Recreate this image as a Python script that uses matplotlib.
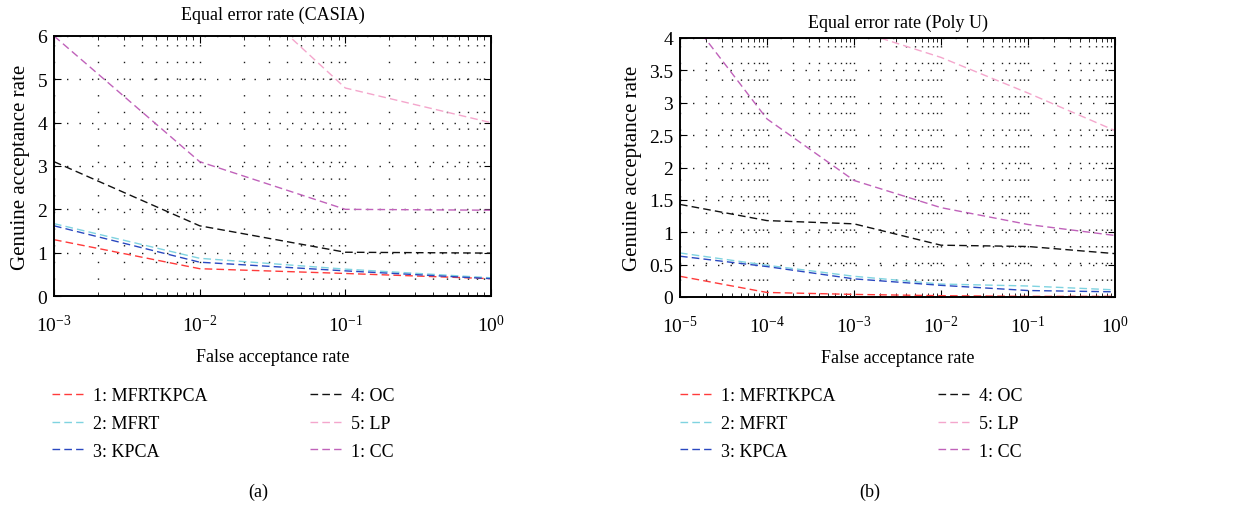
import matplotlib
matplotlib.use("Agg")
import matplotlib.pyplot as plt
from matplotlib.ticker import FuncFormatter, LogLocator

plt.rcParams['font.family'] = ['Liberation Serif', 'DejaVu Serif']
plt.rcParams['mathtext.fontset'] = 'custom'
plt.rcParams['mathtext.rm'] = 'Liberation Serif'
plt.rcParams['mathtext.it'] = 'Liberation Serif:italic'
plt.rcParams['font.size'] = 13

labels = ["1: MFRTKPCA", "2: MFRT", "3: KPCA", "4: OC", "5: LP", "1: CC"]
colors = ["#ff3b3b", "#7fd3e0", "#2a48c0", "#111111", "#f4a6cc", "#c062ba"]

# CASIA
far_casia = [1e-3, 1e-2, 1e-1, 1.0]
casia_mfrtkpca = [1.30, 0.63, 0.52, 0.40]
casia_mfrt = [1.67, 0.87, 0.62, 0.42]
casia_kpca = [1.62, 0.78, 0.58, 0.40]
casia_oc = [3.10, 1.62, 1.01, 0.99]
casia_lp = [11.0, 7.9, 4.8, 4.0]
casia_cc = [6.0, 3.10, 2.0, 1.98]

# Poly U
far_poly = [1e-5, 1e-4, 1e-3, 1e-2, 1e-1, 1.0]
poly_mfrtkpca = [0.32, 0.07, 0.04, 0.02, 0.01, 0.01]
poly_mfrt = [0.68, 0.49, 0.32, 0.20, 0.17, 0.11]
poly_kpca = [0.63, 0.47, 0.28, 0.18, 0.10, 0.08]
poly_oc = [1.43, 1.18, 1.13, 0.80, 0.78, 0.67]
poly_lp = [5.0, 4.55, 4.13, 3.70, 3.15, 2.57]
poly_cc = [4.5, 2.75, 1.80, 1.38, 1.12, 0.95]

casia = [casia_mfrtkpca, casia_mfrt, casia_kpca, casia_oc, casia_lp, casia_cc]
poly = [poly_mfrtkpca, poly_mfrt, poly_kpca, poly_oc, poly_lp, poly_cc]

fig = plt.figure(figsize=(12.34, 5.06), dpi=100)
ax1 = fig.add_axes([54 / 1234, 209 / 506, 437 / 1234, 260 / 506])
ax2 = fig.add_axes([680 / 1234, 208 / 506, 435 / 1234, 259 / 506])


def style(ax, far, series, ymax, yticks, title, tpad):
    for ys, c, lab in zip(series, colors, labels):
        ax.plot(far, ys, color=c, lw=1.0, dashes=(5.5, 3), label=lab)
    ax.set_xscale('log')
    ax.set_xlim(far[0], far[-1])
    ax.set_ylim(0, ymax)
    ax.set_yticks(yticks)
    ax.yaxis.set_major_formatter(FuncFormatter(lambda v, p: f"{v:g}"))
    ax.xaxis.set_major_locator(LogLocator(base=10, numticks=10))
    ax.xaxis.set_minor_locator(LogLocator(base=10, subs=range(2, 10), numticks=20))
    ax.tick_params(which='both', direction='in', top=True, right=True, labelsize=14)
    ax.tick_params(which='major', length=5, width=0.8)
    ax.tick_params(which='minor', length=3, width=0.6)
    ax.tick_params(axis='x', pad=13)
    ax.tick_params(axis='y', pad=5)
    ax.grid(True, which='major', axis='y', color='0.1', lw=1.0, linestyle=(0, (1, 8)))
    ax.grid(True, which='both', axis='x', color='0.1', lw=1.0, linestyle=(0, (1, 11)))
    for s in ax.spines.values():
        s.set_linewidth(1.4)
    ax.set_title(title, fontsize=13, pad=tpad)
    ax.set_xlabel("False acceptance rate", fontsize=13, labelpad=9)
    ax.set_ylabel("Genuine acceptance rate", fontsize=15, labelpad=5)


style(ax1, far_casia, casia, 6, range(0, 7), "Equal error rate (CASIA)", 12)
style(ax2, far_poly, poly, 4, [0, 0.5, 1, 1.5, 2, 2.5, 3, 3.5, 4], "Equal error rate (Poly U)", 8)

for ax, x0 in [(ax1, 52 / 1234), (ax2, 680 / 1234)]:
    h, l = ax.get_legend_handles_labels()
    fig.legend(h, l, loc='upper left', bbox_to_anchor=(x0, 1 - 388 / 506), ncol=2,
               frameon=False, fontsize=13, handlelength=1.7, handletextpad=0.55,
               columnspacing=5.7, labelspacing=0.6, borderpad=0, borderaxespad=0)

fig.text(258 / 1234, 1 - 492 / 506, "(a)", ha='center', va='center', fontsize=13)
fig.text(870 / 1234, 1 - 492 / 506, "(b)", ha='center', va='center', fontsize=13)

fig.savefig("out.png", dpi=100)
